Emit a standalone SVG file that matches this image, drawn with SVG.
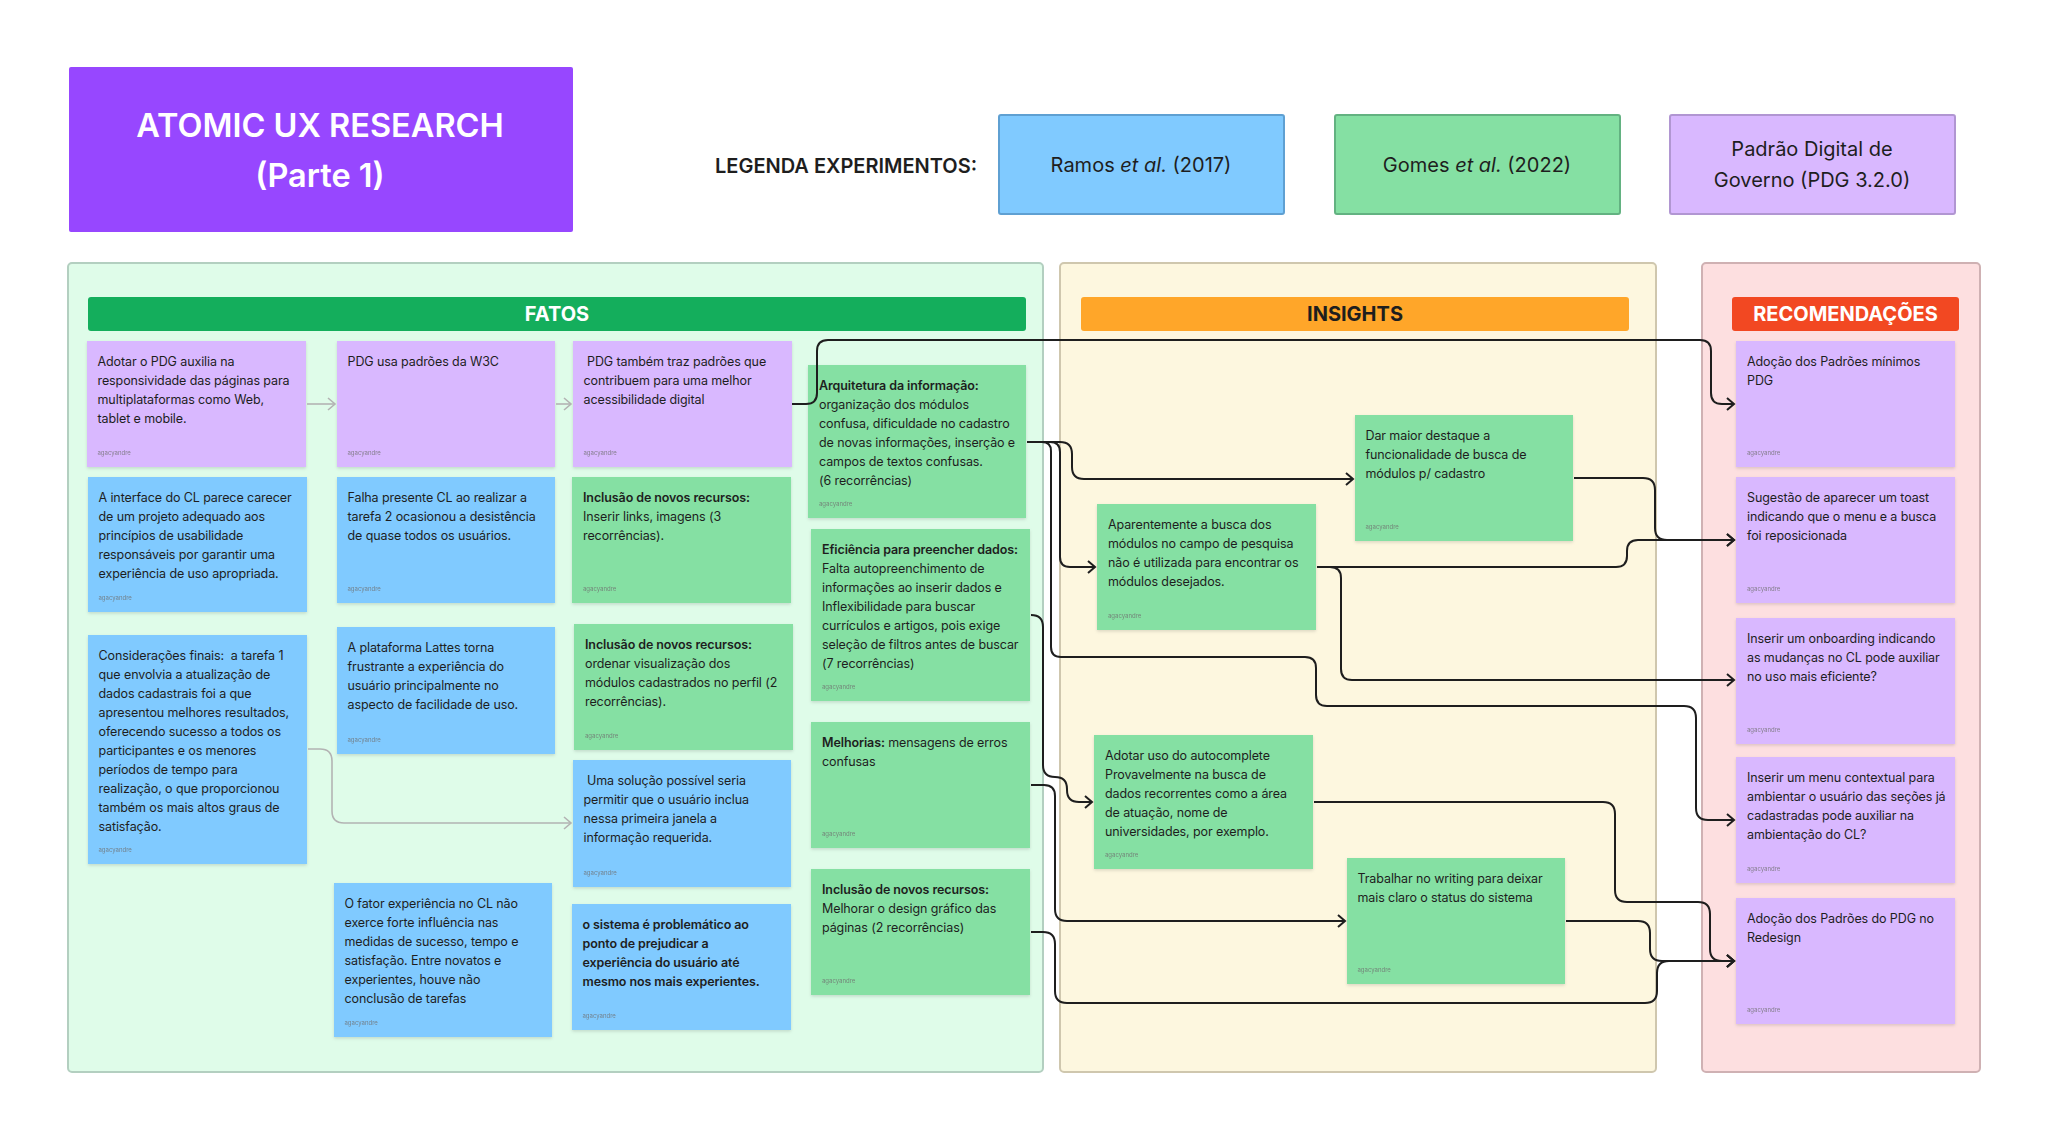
<svg xmlns="http://www.w3.org/2000/svg" width="2048" height="1141" viewBox="0 0 2048 1141">
<defs>
<style>
.np{fill:#D9B8FF}.nb{fill:#80CAFF}.ng{fill:#85E0A3}
.t{font-family:Inter,"Noto Sans","Liberation Sans",sans-serif;font-size:12.5px;letter-spacing:-0.1px;fill:#1E1E1E}
.b{font-weight:600}
.f{font-family:Inter,"Liberation Sans",sans-serif;font-size:6px;fill:#6f6f6f;opacity:.8}
.h{font-family:Inter,"Liberation Sans",sans-serif;font-size:20px;font-weight:700;text-anchor:middle}
.lg{font-family:Inter,"Liberation Sans",sans-serif;font-size:20px;fill:#1E1E1E;text-anchor:middle}
.k{fill:none;stroke:#1E1E1E;stroke-width:2;marker-end:url(#ak)}
.g{fill:none;stroke:#B3B3B3;stroke-width:1.6;marker-end:url(#ag)}
.note{filter:url(#sh)}
</style>
<filter id="sh" x="-5%" y="-5%" width="110%" height="115%"><feDropShadow dx="0" dy="1.5" stdDeviation="1.5" flood-color="#000" flood-opacity="0.13"/></filter>
<marker id="ak" markerUnits="userSpaceOnUse" markerWidth="12" markerHeight="16" refX="8" refY="7" orient="auto"><path d="M1,1 L8,7 L1,13" fill="none" stroke="#1E1E1E" stroke-width="2"/></marker>
<marker id="ag" markerUnits="userSpaceOnUse" markerWidth="12" markerHeight="16" refX="8" refY="7" orient="auto"><path d="M1,1 L8,7 L1,13" fill="none" stroke="#B3B3B3" stroke-width="1.6"/></marker>
</defs>
<rect width="2048" height="1141" fill="#FFFFFF"/>

<g id="title">
<rect x="69" y="67" width="504" height="165" rx="2" fill="#9747FF"/>
<text x="320" y="137" font-family="Inter,'Liberation Sans',sans-serif" font-size="32.5" font-weight="600" fill="#FFFFFF" text-anchor="middle">ATOMIC UX RESEARCH</text>
<text x="320" y="187" font-family="Inter,'Liberation Sans',sans-serif" font-size="32.5" font-weight="600" fill="#FFFFFF" text-anchor="middle">(Parte 1)</text>
</g>

<g id="legend">
<text x="715" y="172.5" font-family="Inter,'Liberation Sans',sans-serif" font-size="20" font-weight="600" fill="#1E1E1E">LEGENDA EXPERIMENTOS:</text>
<g id="leg-ramos"><rect x="999" y="115" width="285" height="99" rx="2" fill="#80CAFF" stroke="#5FA0D2" stroke-width="2"/>
<text class="lg" x="1141" y="171.5">Ramos <tspan font-style="italic">et al.</tspan> (2017)</text></g>
<g id="leg-gomes"><rect x="1335" y="115" width="285" height="99" rx="2" fill="#85E0A3" stroke="#63B281" stroke-width="2"/>
<text class="lg" x="1477" y="171.5">Gomes <tspan font-style="italic">et al.</tspan> (2022)</text></g>
<g id="leg-pdg"><rect x="1670" y="115" width="285" height="99" rx="2" fill="#D9B8FF" stroke="#B196D2" stroke-width="2"/>
<text class="lg" x="1812" y="156">Padrão Digital de</text>
<text class="lg" x="1812" y="187">Governo (PDG 3.2.0)</text></g>
</g>

<g id="panels">
<g id="fatos"><rect x="68" y="263" width="975" height="809" rx="4" fill="#DFFCE9" stroke="#B3CFC0" stroke-width="2"/>
<rect x="88" y="297" width="938" height="34" rx="3" fill="#14AE5C"/>
<text class="h" x="557" y="321" fill="#FFFFFF">FATOS</text></g>
<g id="insights"><rect x="1060" y="263" width="596" height="809" rx="4" fill="#FDF7DF" stroke="#CFC7AE" stroke-width="2"/>
<rect x="1081" y="297" width="548" height="34" rx="3" fill="#FFA629"/>
<text class="h" x="1355" y="321" fill="#1E1E1E">INSIGHTS</text></g>
<g id="recomendacoes"><rect x="1702" y="263" width="278" height="809" rx="4" fill="#FDDFE0" stroke="#CFB1B3" stroke-width="2"/>
<rect x="1732" y="297" width="227" height="34" rx="3" fill="#F24822"/>
<text class="h" x="1845.5" y="321" fill="#FFFFFF">RECOMENDAÇÕES</text></g>
</g>

<g id="notes">
<g id="n1"><rect class="np note" x="87" y="341" width="219" height="126"/>
<text class="t"><tspan x="97.5" y="366">Adotar o PDG auxilia na</tspan><tspan x="97.5" y="385">responsividade das páginas para</tspan><tspan x="97.5" y="404">multiplataformas como Web,</tspan><tspan x="97.5" y="423">tablet e mobile.</tspan></text>
<text class="f" x="97.5" y="455">agacyandre</text></g>

<g id="n2"><rect class="np note" x="337" y="341" width="218" height="126"/>
<text class="t"><tspan x="347.5" y="366">PDG usa padrões da W3C</tspan></text>
<text class="f" x="347.5" y="455">agacyandre</text></g>

<g id="n3"><rect class="np note" x="573" y="341" width="219" height="126"/>
<text class="t"><tspan x="587" y="366">PDG também traz padrões que</tspan><tspan x="583.5" y="385">contribuem para uma melhor</tspan><tspan x="583.5" y="404">acessibilidade digital</tspan></text>
<text class="f" x="583.5" y="455">agacyandre</text></g>

<g id="n4"><rect class="nb note" x="88" y="477" width="219" height="135"/>
<text class="t"><tspan x="98.5" y="502">A interface do CL parece carecer</tspan><tspan x="98.5" y="521">de um projeto adequado aos</tspan><tspan x="98.5" y="540">princípios de usabilidade</tspan><tspan x="98.5" y="559">responsáveis por garantir uma</tspan><tspan x="98.5" y="578">experiência de uso apropriada.</tspan></text>
<text class="f" x="98.5" y="600">agacyandre</text></g>

<g id="n5"><rect class="nb note" x="337" y="477" width="218" height="126"/>
<text class="t"><tspan x="347.5" y="502">Falha presente CL ao realizar a</tspan><tspan x="347.5" y="521">tarefa 2 ocasionou a desistência</tspan><tspan x="347.5" y="540">de quase todos os usuários.</tspan></text>
<text class="f" x="347.5" y="591">agacyandre</text></g>

<g id="n6"><rect class="ng note" x="572" y="477" width="219" height="126"/>
<text class="t"><tspan class="b" x="583" y="502">Inclusão de novos recursos:</tspan><tspan x="583" y="521">Inserir links, imagens (3</tspan><tspan x="583" y="540">recorrências).</tspan></text>
<text class="f" x="583" y="591">agacyandre</text></g>

<g id="n7"><rect class="nb note" x="88" y="635" width="219" height="229"/>
<text class="t" style="white-space:pre"><tspan x="98.5" y="660">Considerações finais:  a tarefa 1</tspan><tspan x="98.5" y="679">que envolvia a atualização de</tspan><tspan x="98.5" y="698">dados cadastrais foi a que</tspan><tspan x="98.5" y="717">apresentou melhores resultados,</tspan><tspan x="98.5" y="736">oferecendo sucesso a todos os</tspan><tspan x="98.5" y="755">participantes e os menores</tspan><tspan x="98.5" y="774">períodos de tempo para</tspan><tspan x="98.5" y="793">realização, o que proporcionou</tspan><tspan x="98.5" y="812">também os mais altos graus de</tspan><tspan x="98.5" y="831">satisfação.</tspan></text>
<text class="f" x="98.5" y="852">agacyandre</text></g>

<g id="n8"><rect class="nb note" x="337" y="627" width="218" height="127"/>
<text class="t"><tspan x="347.5" y="652">A plataforma Lattes torna</tspan><tspan x="347.5" y="671">frustrante a experiência do</tspan><tspan x="347.5" y="690">usuário principalmente no</tspan><tspan x="347.5" y="709">aspecto de facilidade de uso.</tspan></text>
<text class="f" x="347.5" y="742">agacyandre</text></g>

<g id="n9"><rect class="ng note" x="574" y="624" width="219" height="126"/>
<text class="t"><tspan class="b" x="585" y="649">Inclusão de novos recursos:</tspan><tspan x="585" y="668">ordenar visualização dos</tspan><tspan x="585" y="687">módulos cadastrados no perfil (2</tspan><tspan x="585" y="706">recorrências).</tspan></text>
<text class="f" x="585" y="738">agacyandre</text></g>

<g id="n10"><rect class="nb note" x="573" y="760" width="218" height="127"/>
<text class="t"><tspan x="587" y="785">Uma solução possível seria</tspan><tspan x="583.5" y="804">permitir que o usuário inclua</tspan><tspan x="583.5" y="823">nessa primeira janela a</tspan><tspan x="583.5" y="842">informação requerida.</tspan></text>
<text class="f" x="583.5" y="875">agacyandre</text></g>

<g id="n11"><rect class="nb note" x="334" y="883" width="218" height="154"/>
<text class="t"><tspan x="344.5" y="908">O fator experiência no CL não</tspan><tspan x="344.5" y="927">exerce forte influência nas</tspan><tspan x="344.5" y="946">medidas de sucesso, tempo e</tspan><tspan x="344.5" y="965">satisfação. Entre novatos e</tspan><tspan x="344.5" y="984">experientes, houve não</tspan><tspan x="344.5" y="1003">conclusão de tarefas</tspan></text>
<text class="f" x="344.5" y="1025">agacyandre</text></g>

<g id="n12"><rect class="nb note" x="572" y="904" width="219" height="126"/>
<text class="t b"><tspan x="582.5" y="929">o sistema é problemático ao</tspan><tspan x="582.5" y="948">ponto de prejudicar a</tspan><tspan x="582.5" y="967">experiência do usuário até</tspan><tspan x="582.5" y="986">mesmo nos mais experientes.</tspan></text>
<text class="f" x="582.5" y="1018">agacyandre</text></g>

<g id="n13"><rect class="ng note" x="808" y="365" width="218" height="153"/>
<text class="t"><tspan class="b" x="819" y="390">Arquitetura da informação:</tspan><tspan x="819" y="409">organização dos módulos</tspan><tspan x="819" y="428">confusa, dificuldade no cadastro</tspan><tspan x="819" y="447">de novas informações, inserção e</tspan><tspan x="819" y="466">campos de textos confusas.</tspan><tspan x="819" y="485">(6 recorrências)</tspan></text>
<text class="f" x="819" y="506">agacyandre</text></g>

<g id="n14"><rect class="ng note" x="811" y="529" width="219" height="172"/>
<text class="t"><tspan class="b" x="822" y="554">Eficiência para preencher dados:</tspan><tspan x="822" y="573">Falta autopreenchimento de</tspan><tspan x="822" y="592">informações ao inserir dados e</tspan><tspan x="822" y="611">Inflexibilidade para buscar</tspan><tspan x="822" y="630">currículos e artigos, pois exige</tspan><tspan x="822" y="649">seleção de filtros antes de buscar</tspan><tspan x="822" y="668">(7 recorrências)</tspan></text>
<text class="f" x="822" y="689">agacyandre</text></g>

<g id="n15"><rect class="ng note" x="811" y="722" width="219" height="126"/>
<text class="t"><tspan x="822" y="747"><tspan class="b">Melhorias:</tspan> mensagens de erros</tspan><tspan x="822" y="766">confusas</tspan></text>
<text class="f" x="822" y="836">agacyandre</text></g>

<g id="n16"><rect class="ng note" x="811" y="869" width="219" height="126"/>
<text class="t"><tspan class="b" x="822" y="894">Inclusão de novos recursos:</tspan><tspan x="822" y="913">Melhorar o design gráfico das</tspan><tspan x="822" y="932">páginas (2 recorrências)</tspan></text>
<text class="f" x="822" y="983">agacyandre</text></g>

<g id="n17"><rect class="ng note" x="1355" y="415" width="218" height="126"/>
<text class="t"><tspan x="1365.5" y="440">Dar maior destaque a</tspan><tspan x="1365.5" y="459">funcionalidade de busca de</tspan><tspan x="1365.5" y="478">módulos p/ cadastro</tspan></text>
<text class="f" x="1365.5" y="529">agacyandre</text></g>

<g id="n18"><rect class="ng note" x="1097" y="504" width="219" height="126"/>
<text class="t"><tspan x="1108" y="529">Aparentemente a busca dos</tspan><tspan x="1108" y="548">módulos no campo de pesquisa</tspan><tspan x="1108" y="567">não é utilizada para encontrar os</tspan><tspan x="1108" y="586">módulos desejados.</tspan></text>
<text class="f" x="1108" y="618">agacyandre</text></g>

<g id="n19"><rect class="ng note" x="1094" y="735" width="219" height="134"/>
<text class="t"><tspan x="1105" y="760">Adotar uso do autocomplete</tspan><tspan x="1105" y="779">Provavelmente na busca de</tspan><tspan x="1105" y="798">dados recorrentes como a área</tspan><tspan x="1105" y="817">de atuação, nome de</tspan><tspan x="1105" y="836">universidades, por exemplo.</tspan></text>
<text class="f" x="1105" y="857">agacyandre</text></g>

<g id="n20"><rect class="ng note" x="1347" y="858" width="218" height="126"/>
<text class="t"><tspan x="1357.5" y="883">Trabalhar no writing para deixar</tspan><tspan x="1357.5" y="902">mais claro o status do sistema</tspan></text>
<text class="f" x="1357.5" y="972">agacyandre</text></g>

<g id="n21"><rect class="np note" x="1736" y="341" width="219" height="126"/>
<text class="t"><tspan x="1747" y="366">Adoção dos Padrões mínimos</tspan><tspan x="1747" y="385">PDG</tspan></text>
<text class="f" x="1747" y="455">agacyandre</text></g>

<g id="n22"><rect class="np note" x="1736" y="477" width="219" height="126"/>
<text class="t"><tspan x="1747" y="502">Sugestão de aparecer um toast</tspan><tspan x="1747" y="521">indicando que o menu e a busca</tspan><tspan x="1747" y="540">foi reposicionada</tspan></text>
<text class="f" x="1747" y="591">agacyandre</text></g>

<g id="n23"><rect class="np note" x="1736" y="618" width="219" height="126"/>
<text class="t"><tspan x="1747" y="643">Inserir um onboarding indicando</tspan><tspan x="1747" y="662">as mudanças no CL pode auxiliar</tspan><tspan x="1747" y="681">no uso mais eficiente?</tspan></text>
<text class="f" x="1747" y="732">agacyandre</text></g>

<g id="n24"><rect class="np note" x="1736" y="757" width="219" height="126"/>
<text class="t"><tspan x="1747" y="782">Inserir um menu contextual para</tspan><tspan x="1747" y="801">ambientar o usuário das seções já</tspan><tspan x="1747" y="820">cadastradas pode auxiliar na</tspan><tspan x="1747" y="839">ambientação do CL?</tspan></text>
<text class="f" x="1747" y="871">agacyandre</text></g>

<g id="n25"><rect class="np note" x="1736" y="898" width="219" height="126"/>
<text class="t"><tspan x="1747" y="923">Adoção dos Padrões do PDG no</tspan><tspan x="1747" y="942">Redesign</tspan></text>
<text class="f" x="1747" y="1012">agacyandre</text></g>
</g>

<g id="connectors">
<path class="g" d="M307 404 H335"/>
<path class="g" d="M556 404 H571"/>
<path class="g" d="M308 749 H320 Q332 749 332 761 V811 Q332 823 344 823 H571"/>

<path class="k" d="M792 404 H806 Q817 404 817 393 V351 Q817 340 828 340 H1700 Q1711 340 1711 351 V393 Q1711 404 1722 404 H1734"/>
<path class="k" d="M1027 442 H1060 Q1072 442 1072 454 V467 Q1072 479 1084 479 H1353"/>
<path class="k" d="M1027 442 H1050 Q1060 442 1060 452 V557 Q1060 567 1070 567 H1095"/>
<path class="k" d="M1027 442 H1042 Q1051 442 1051 451 V647 Q1051 657 1061 657 H1305 Q1316 657 1316 668 V695 Q1316 706 1327 706 H1684 Q1696 706 1696 718 V808 Q1696 820 1708 820 H1734"/>
<path class="k" d="M1574 478 H1643 Q1655 478 1655 490 V528 Q1655 540 1667 540 H1734"/>
<path class="k" d="M1317 567 H1616 Q1627 567 1627 556 V551 Q1627 540 1638 540 H1734"/>
<path class="k" d="M1317 567 H1330 Q1341 567 1341 578 V669 Q1341 680 1352 680 H1734"/>
<path class="k" d="M1031 615 Q1043 615 1043 627 V765 Q1043 777 1055 777 Q1067 777 1067 789 V790 Q1067 802 1079 802 H1092"/>
<path class="k" d="M1031 785 H1044 Q1055 785 1055 796 V909 Q1055 921 1067 921 H1345"/>
<path class="k" d="M1031 932 H1043 Q1055 932 1055 944 V991 Q1055 1003 1067 1003 H1645 Q1657 1003 1657 991 V973 Q1657 961 1669 961 H1734"/>
<path class="k" d="M1314 802 H1603 Q1615 802 1615 814 V890 Q1615 902 1627 902 H1698 Q1710 902 1710 914 V949 Q1710 961 1722 961 H1734"/>
<path class="k" d="M1566 921 H1638 Q1650 921 1650 933 V949 Q1650 961 1662 961 H1734"/>
</g>
</svg>
